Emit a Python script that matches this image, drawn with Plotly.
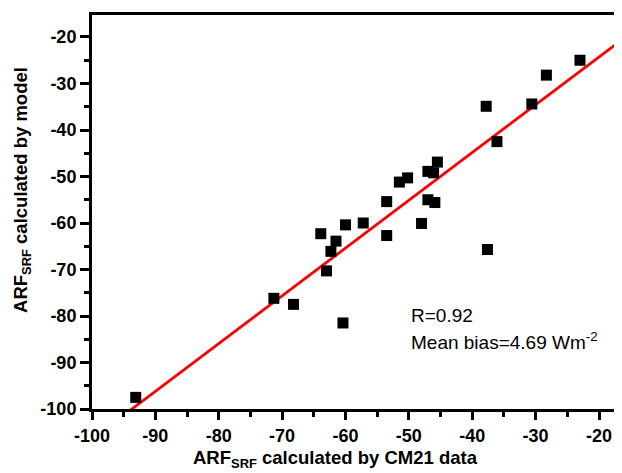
import plotly.graph_objects as go
import numpy as np

# Data (ARF_SRF, W m^-2)
cm21_x = [-93.1, -71.3, -68.2, -60.4, -63.9, -63.0, -62.3, -61.5, -60.0, -57.2,
          -53.5, -53.5, -51.5, -50.2, -48.0, -47.0, -46.1, -45.5, -47.0, -45.9,
          -37.8, -37.6, -36.1, -30.6, -28.3, -23.0]
model_y = [-97.5, -76.2, -77.5, -81.5, -62.3, -70.3, -66.1, -63.9, -60.4, -60.0,
           -55.4, -62.7, -51.2, -50.3, -60.1, -48.9, -49.2, -46.9, -55.0, -55.6,
           -34.9, -65.7, -42.5, -34.4, -28.2, -25.0]

fit_slope = 1.027
fit_intercept = -3.77

tick_vals = [-100, -90, -80, -70, -60, -50, -40, -30, -20]
tick_text = ["-100", "-90", "-80", "-70", "-60", "-50", "-40", "-30", "-20"]

x_range = [-100, -16.37]
y_range = [-100, -15.27]

font_family = "Arial, Liberation Sans, sans-serif"

fit_x = np.linspace(-100, x_range[1], 50)
fit_y = fit_slope * fit_x + fit_intercept

fig = go.Figure()
fig.add_trace(go.Scatter(
    x=fit_x, y=fit_y, mode="lines",
    line=dict(color="#ff0000", width=2.8),
    showlegend=False, hoverinfo="skip"))
fig.add_trace(go.Scatter(
    x=cm21_x, y=model_y, mode="markers",
    marker=dict(symbol="square", size=11, color="black"),
    showlegend=False))

bold_ticks = ["<b>%s</b>" % t for t in tick_text]

axis_common = dict(
    showgrid=False, zeroline=False, showline=True, linecolor="black", linewidth=3,
    ticks="outside", tickcolor="black", tickwidth=2.5,
    tickfont=dict(family=font_family, size=18, color="black"),
    tickvals=tick_vals, ticktext=bold_ticks,
    minor=dict(ticks="outside", dtick=5, ticklen=5, tickwidth=2.5, tickcolor="black", showgrid=False),
)

fig.update_xaxes(range=x_range, ticklen=8, mirror=True, **axis_common)
fig.update_yaxes(range=y_range, ticklen=9, mirror=False, **axis_common)

fig.add_annotation(text="R=0.92", xref="paper", yref="paper", x=0.598, y=0.238,
                   xanchor="left", yanchor="middle", showarrow=False,
                   font=dict(family=font_family, size=19, color="black"))
fig.add_annotation(text="Mean bias=4.69 Wm<sup>-2</sup>", xref="paper", yref="paper",
                   x=0.598, y=0.172, xanchor="left", yanchor="middle", showarrow=False,
                   font=dict(family=font_family, size=19, color="black"))
fig.add_annotation(text="<b>ARF<sub>SRF</sub> calculated by model</b>", xref="paper", yref="paper",
                   x=-0.132, y=0.556, xanchor="center", yanchor="middle", textangle=-90,
                   showarrow=False,
                   font=dict(family=font_family, size=18.5, color="black"))
fig.add_annotation(text="<b>ARF<sub>SRF</sub> calculated by CM21 data</b>", xref="paper", yref="paper",
                   x=0.460, y=-0.127, xanchor="center", yanchor="middle",
                   showarrow=False,
                   font=dict(family=font_family, size=18.5, color="black"))

# The page body adds an 8 px offset; the figure is sized so the plot lands where the reference has it.
fig.update_layout(
    width=614, height=465,
    margin=dict(l=84, r=0, t=7, b=64),
    paper_bgcolor="white", plot_bgcolor="white",
    showlegend=False,
)

fig.write_html("out.html")
